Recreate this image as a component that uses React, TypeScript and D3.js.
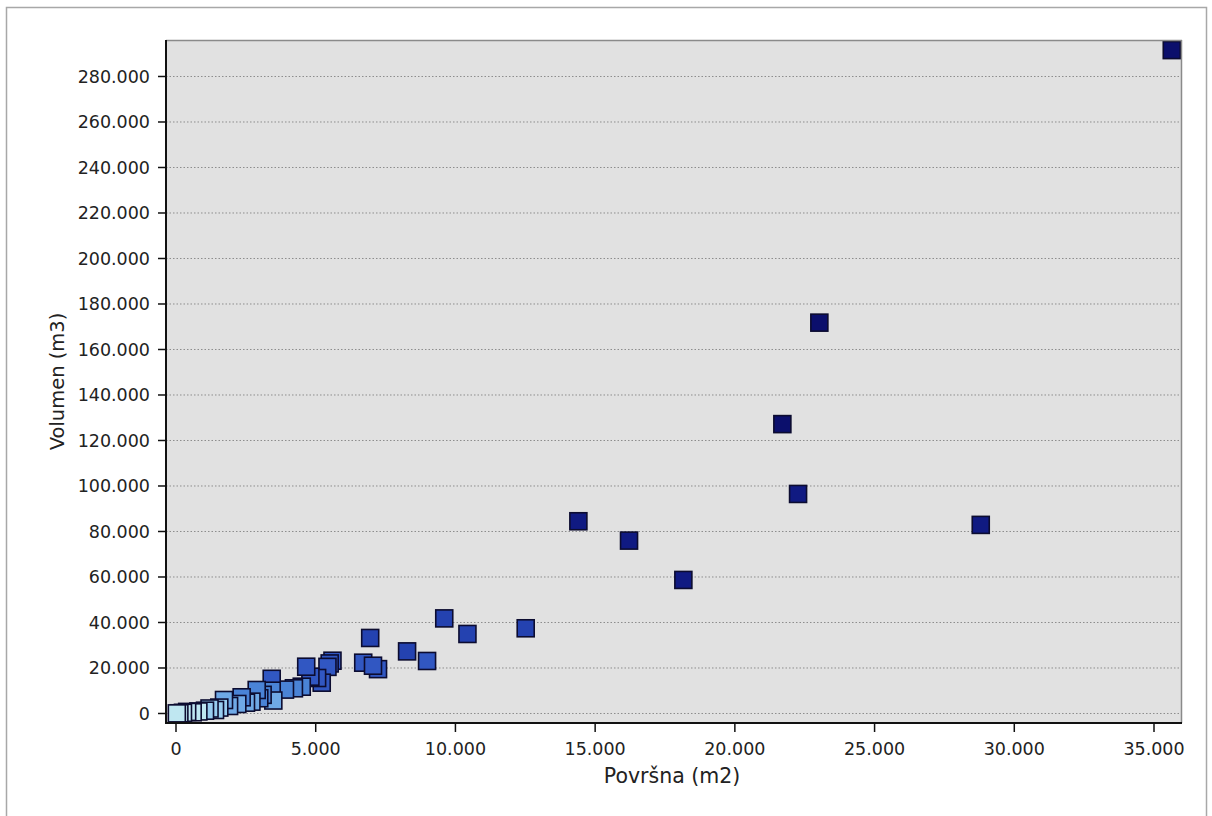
import React from "react";
import * as d3 from "d3";

// Površna (m2)
const area: number[] = [
  35636, 23024, 21700, 22262, 28800, 14400, 16213, 18157,
  9600, 10430, 12515, 6950, 8270, 8985, 6700, 7230, 7050,
  5600, 5500, 5420, 5215, 5050, 4810, 4660, 4500, 4220, 3900,
  3425, 3425, 3483, 3100, 2980, 2888, 2700, 2505, 2350, 2194,
  1900, 1718, 1550, 1396, 1200, 1038, 800, 597, 400, 250, 120, 30,
];
// Volumen (m3)
const volume: number[] = [
  291600, 171800, 127200, 96500, 82900, 84500, 76000, 58700,
  41800, 34950, 37450, 33200, 27300, 23080, 22330, 19500, 21000,
  23200, 22000, 20500, 13540, 15600, 16180, 20570, 11780, 11080, 10500,
  15250, 10020, 5700, 8200, 6700, 10330, 5200, 4750, 7120, 4180,
  3300, 5930, 2600, 1540, 2200, 1230, 900, 530, 700, 300, 100, 50,
];

const xTicks: number[] = [0, 5000, 10000, 15000, 20000, 25000, 30000, 35000];
const yTicks: number[] = [0, 20000, 40000, 60000, 80000, 100000, 120000, 140000, 160000, 180000, 200000, 220000, 240000, 260000, 280000];

const colorBreaks: number[] = [1000, 3000, 6000, 12000, 25000, 50000, 100000];
const colorClasses: string[] = ["#bfe7f1", "#98cdf0", "#6fa9e6", "#4a83d6", "#3157c2", "#2442b0", "#101a82", "#0b0f6c"];

const W = 1212;
const H = 816;
const plot = { left: 166, right: 1182, top: 40, bottom: 723 };

const fmt = d3
  .formatLocale({ decimal: ",", thousands: ".", grouping: [3], currency: ["", ""] })
  .format(",d");

export default function App() {
  const x = d3.scaleLinear().domain([-358, 36002]).range([plot.left, plot.right]);
  const y = d3.scaleLinear().domain([-4180, 296040]).range([plot.bottom, plot.top]);
  const color = d3.scaleThreshold<number, string>().domain(colorBreaks).range(colorClasses);

  const pts = area.map((a, i) => ({ a, v: volume[i] }));
  const size = 17;
  const font = "'DejaVu Sans', Verdana, sans-serif";

  return (
    <svg width={W} height={H} style={{ position: "absolute", left: 0, top: 0, background: "#fff" }}>
      <defs>
        <clipPath id="plotclip">
          <rect x={plot.left} y={plot.top} width={plot.right - plot.left} height={plot.bottom - plot.top} />
        </clipPath>
      </defs>
      <rect x={6.5} y={7.5} width={1200} height={830} fill="#fff" stroke="#a8a8a8" strokeWidth={1.5} />
      <rect x={plot.left} y={plot.top} width={plot.right - plot.left} height={plot.bottom - plot.top} fill="#e1e1e1" />
      {yTicks.map((t) => (
        <line
          key={"g" + t}
          x1={plot.left}
          x2={plot.right}
          y1={y(t)}
          y2={y(t)}
          stroke="#8c8c8c"
          strokeWidth={1}
          strokeDasharray="1.5,2"
        />
      ))}
      <g clipPath="url(#plotclip)">
        {pts.map((p, i) => (
          <rect
            key={i}
            x={x(p.a) - size / 2}
            y={y(p.v) - size / 2}
            width={size}
            height={size}
            fill={color(p.v)}
            stroke="#0c0c30"
            strokeWidth={1.6}
          />
        ))}
      </g>
      {/* plot frame */}
      <line x1={plot.left} x2={plot.right} y1={plot.top + 0.5} y2={plot.top + 0.5} stroke="#8a8a8a" strokeWidth={1.5} />
      <line x1={plot.right - 0.5} x2={plot.right - 0.5} y1={plot.top} y2={plot.bottom} stroke="#8a8a8a" strokeWidth={1.5} />
      <line x1={plot.left} x2={plot.left} y1={plot.top} y2={plot.bottom + 1} stroke="#111" strokeWidth={2} />
      <line x1={plot.left - 1} x2={plot.right} y1={plot.bottom} y2={plot.bottom} stroke="#111" strokeWidth={2} />
      {/* y axis */}
      {yTicks.map((t) => (
        <g key={"y" + t}>
          <line x1={plot.left - 8} x2={plot.left} y1={y(t)} y2={y(t)} stroke="#111" strokeWidth={1.5} />
          <text x={150} y={y(t)} dy="0.36em" textAnchor="end" fontFamily={font} fontSize={17.5} fill="#222">
            {fmt(t)}
          </text>
        </g>
      ))}
      {/* x axis */}
      {xTicks.map((t) => (
        <g key={"x" + t}>
          <line x1={x(t)} x2={x(t)} y1={plot.bottom} y2={plot.bottom + 9} stroke="#111" strokeWidth={1.5} />
          <text x={x(t)} y={755} textAnchor="middle" fontFamily={font} fontSize={17.5} fill="#222">
            {fmt(t)}
          </text>
        </g>
      ))}
      <text x={672} y={783} textAnchor="middle" fontFamily={font} fontSize={20.5} fill="#222">
        Površna (m2)
      </text>
      <text
        transform={`translate(64, ${(plot.top + plot.bottom) / 2}) rotate(-90)`}
        textAnchor="middle"
        fontFamily={font}
        fontSize={19.5}
        fill="#222"
      >
        Volumen (m3)
      </text>
    </svg>
  );
}
